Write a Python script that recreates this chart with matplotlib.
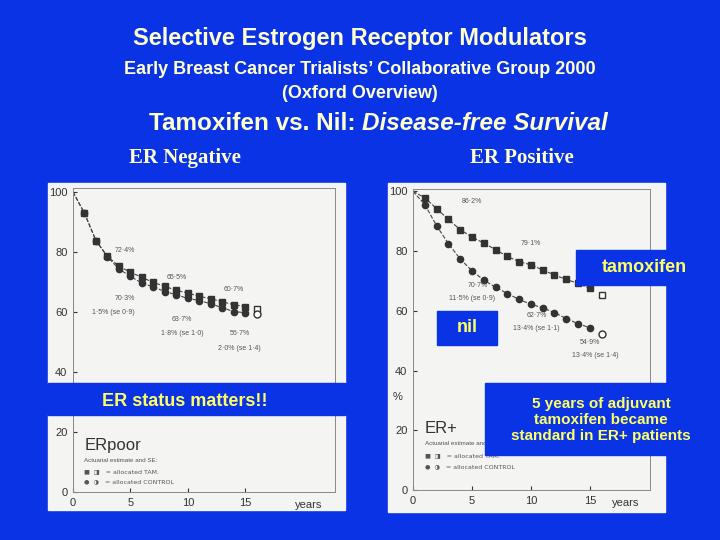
import matplotlib
matplotlib.use("Agg")
import matplotlib.pyplot as plt
from matplotlib.patches import Rectangle

years = list(range(1, 17))
neg_tam = [92.9, 83.8, 78.6, 75.3, 73.3, 71.6, 69.9, 68.6, 67.3, 66.4, 65.3, 64.5, 63.5, 62.5, 61.9, 61.2]
neg_ctl = [92.9, 83.8, 78.4, 74.4, 71.9, 69.7, 68.4, 66.9, 65.8, 64.6, 63.9, 62.8, 61.5, 60.2, 59.9, 59.5]
pos_tam = [97.9, 94.2, 90.6, 87.2, 84.7, 82.7, 80.5, 78.2, 76.5, 75.4, 73.7, 72.0, 70.5, 69.2, 67.5, 65.3]
pos_ctl = [95.6, 88.5, 82.5, 77.4, 73.4, 70.3, 67.9, 65.8, 63.8, 62.2, 61.0, 59.4, 57.4, 55.7, 54.3, 52.3]

plt.rcParams['font.family'] = ['Liberation Sans', 'DejaVu Sans']

BLUE = "#0a33e6"
YEL = "#ffff66"
PALE = "#ffffcc"
W, H = 720, 540
fig = plt.figure(figsize=(7.2, 5.4), dpi=100, facecolor=BLUE)

def box(x0, y0, x1, y1):
    return [x0 / W, 1 - y1 / H, (x1 - x0) / W, (y1 - y0) / H]

def rect(x0, y0, x1, y1, color, z=0):
    fig.patches.append(Rectangle((x0 / W, 1 - y1 / H), (x1 - x0) / W, (y1 - y0) / H,
                                 transform=fig.transFigure, color=color, zorder=z))

rect(48, 183, 345, 383, "#f4f4f2", -1)
rect(48, 415, 345, 510, "#f4f4f2", -1)
rect(388, 183, 665, 512, "#f4f4f2", -1)

def style(ax):
    ax.set_zorder(2)
    ax.set_facecolor("none")
    for s in ax.spines.values():
        s.set_color("#888888"); s.set_linewidth(0.7)
    ax.tick_params(colors="#333333", labelsize=8, length=3, direction="in", pad=4)

def curve(ax, xs, ys, marker):
    ax.plot([0] + xs[:-1], [100] + ys[:-1], color="#444444", lw=0.8, ls="--",
            marker=marker, ms=4.5, mfc="#333333", mec="#333333", markevery=list(range(1, 16)))
    ax.plot(xs[-1], ys[-1], marker=marker, ms=5, mfc="white", mec="#333333", ls="none")

ax1 = fig.add_axes(box(73, 188, 335, 383))
style(ax1)
ax1.set_xlim(0, 22.8); ax1.set_ylim(36.5, 101.3)
ax1.set_yticks([40, 60, 80, 100]); ax1.set_xticks([])
ax1.spines["bottom"].set_visible(False)
curve(ax1, years, neg_tam, "s")
curve(ax1, years, neg_ctl, "o")
for x, y, s in [(4.5, 80, "72·4%"), (9, 71, "65·5%"), (14, 67, "60·7%"), (4.5, 64, "70·3%"),
                (3.5, 59.5, "1·5% (se 0·9)"), (9.5, 57, "63·7%"), (9.5, 52.5, "1·8% (se 1·0)"),
                (14.5, 52.5, "56·7%"), (14.5, 47.5, "2·0% (se 1·4)")]:
    ax1.text(x, y, s, fontsize=5, color="#555555", ha="center")

ax2 = fig.add_axes(box(73, 415, 335, 492))
style(ax2)
ax2.set_xlim(0, 22.8); ax2.set_ylim(0, 25.7)
ax2.set_yticks([0, 20]); ax2.set_xticks([0, 5, 10, 15])
ax2.spines["top"].set_visible(False)
ax2.text(20.5, -2.7, "years", fontsize=8, color="#333333", ha="center", va="top")
ax2.text(1.0, 14, "ERpoor", fontsize=12, color="#333333")
ax2.text(1.0, 10, "Actuarial estimate and SE:", fontsize=4.5, color="#555555")
ax2.text(1.0, 6.2, "■  ◨   = allocated TAM.", fontsize=4.5, color="#555555", family=['DejaVu Sans'])
ax2.text(1.0, 2.8, "●  ◑   = allocated CONTROL", fontsize=4.5, color="#555555", family=['DejaVu Sans'])

ax3 = fig.add_axes(box(413, 189, 650, 490))
style(ax3)
ax3.set_xlim(0, 20.1); ax3.set_ylim(0, 100.8)
ax3.set_yticks([0, 20, 40, 60, 80, 100]); ax3.set_xticks([0, 5, 10, 15])
ax3.text(-1.3, 30, "%", fontsize=8, color="#333333", ha="center")
ax3.text(18, -2.7, "years", fontsize=8, color="#333333", ha="center", va="top")
curve(ax3, years, pos_tam, "s")
curve(ax3, years, pos_ctl, "o")
for x, y, s in [(5, 96, "86·2%"), (10, 82, "79·1%"), (5.5, 68, "70·7%"), (5, 63.5, "11·5% (se 0·9)"),
                (10.5, 58, "62·7%"), (10.5, 53.5, "13·4% (se 1·1)"), (15, 49, "54·9%"),
                (15.5, 44.5, "13·4% (se 1·4)")]:
    ax3.text(x, y, s, fontsize=5, color="#555555", ha="center")
ax3.text(1.0, 19, "ER+", fontsize=12, color="#333333")
ax3.text(1.0, 15, "Actuarial estimate and SE:", fontsize=4.5, color="#555555")
ax3.text(1.0, 11, "■  ◨   = allocated TAM.", fontsize=4.5, color="#555555", family=['DejaVu Sans'])
ax3.text(1.0, 7.4, "●  ◑   = allocated CONTROL", fontsize=4.5, color="#555555", family=['DejaVu Sans'])

# overlay layer on top of everything
ov = fig.add_axes([0, 0, 1, 1])
ov.set_zorder(10)
ov.set_xlim(0, W); ov.set_ylim(H, 0)
ov.axis("off")
ov.patch.set_visible(False)

def orect(x0, y0, x1, y1, color):
    ov.add_patch(Rectangle((x0, y0), x1 - x0, y1 - y0, color=color))

def txt(x, y, s, **kw):
    ov.text(x, y, s, **kw)

orect(48, 383, 345, 415, BLUE)
orect(576, 250, 712, 285, BLUE)
orect(437, 311, 497, 345, BLUE)
orect(485, 383, 712, 455, BLUE)
txt(644, 268, "tamoxifen", fontsize=13, color=YEL, ha="center", va="center", weight="bold")
txt(467, 328, "nil", fontsize=13, color=YEL, ha="center", va="center", weight="bold")
txt(601, 420, "5 years of adjuvant\ntamoxifen became\nstandard in ER+ patients",
    fontsize=11, color=YEL, ha="center", va="center", linespacing=1.15, weight="bold")

txt(360, 38, "Selective Estrogen Receptor Modulators", fontsize=17, color=PALE, ha="center", va="center", weight="bold")
txt(360, 70, "Early Breast Cancer Trialists’ Collaborative Group 2000", fontsize=13, color=PALE, ha="center", va="center", weight="bold")
txt(360, 94, "(Oxford Overview)", fontsize=13, color=PALE, ha="center", va="center", weight="bold")
txt(362, 124, "Tamoxifen vs. Nil: ", fontsize=17.5, color=PALE, ha="right", va="center", weight="bold")
txt(362, 124, "Disease-free Survival", fontsize=17.5, color=PALE, ha="left", va="center", style="italic", weight="bold")
txt(185, 158, "ER Negative", fontsize=15, color=PALE, ha="center", va="center", family="Liberation Serif", weight="bold")
txt(522, 158, "ER Positive", fontsize=15, color=PALE, ha="center", va="center", family="Liberation Serif", weight="bold")
txt(185, 402, "ER status matters!!", fontsize=13, color=YEL, ha="center", va="center", weight="bold")

fig.savefig("out.png", dpi=100, facecolor=BLUE)
